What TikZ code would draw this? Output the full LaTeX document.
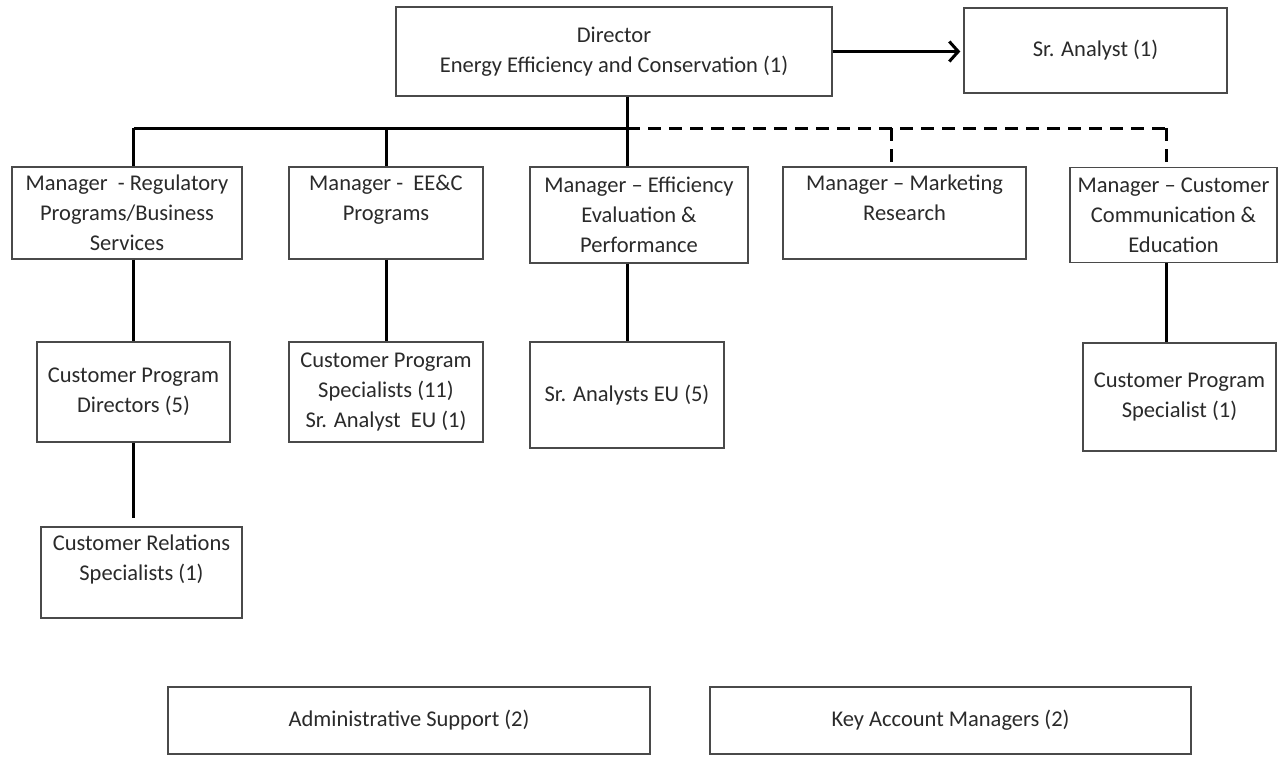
\documentclass[tikz,border=0pt]{standalone}
\usepackage{fontspec}
\setmainfont{Carlito}
\usetikzlibrary{arrows.meta}
\definecolor{boxgray}{HTML}{4A4A4A}
\definecolor{txtgray}{HTML}{2A2A2A}
\begin{document}
\begin{tikzpicture}[x=1pt,y=-1pt,
  box/.style={draw=boxgray, line width=1.4pt, inner sep=0pt, align=center,
    text=txtgray, font=\fontsize{22.5pt}{30pt}\selectfont},
  link/.style={line width=3pt, draw=black},
  dlink/.style={link, dash pattern=on 13pt off 8pt}]
\useasboundingbox[fill=white] (0,0) rectangle (1283,760);

\node[box, minimum width=436pt, minimum height=89pt] (dir) at (614,51.5) {Director\\Energy Efficiency and Conservation (1)};
\node[box, minimum width=263pt, minimum height=85pt] (sra) at (1095.5,50.5) {Sr. Analyst (1)};

\node[box, minimum width=230pt, minimum height=92pt] (m1) at (127,213) {Manager \ - Regulatory\\Programs/Business\\Services};
\node[box, minimum width=194pt, minimum height=92pt] (m2) at (386,213) {Manager - \ EE\&C\\Programs\\\mbox{}};
\node[box, minimum width=218pt, minimum height=96pt] (m3) at (639,215) {Manager – Efficiency\\Evaluation \&\\Performance};
\node[box, minimum width=243pt, minimum height=92pt] (m4) at (904.5,213) {Manager – Marketing\\Research\\\mbox{}};
\node[box, minimum width=207pt, minimum height=95pt] (m5) at (1173.5,215) {Manager – Customer\\Communication \&\\Education};

\node[box, minimum width=193pt, minimum height=100pt] (cpd) at (133.5,392) {Customer Program\\Directors (5)};
\node[box, minimum width=194pt, minimum height=100pt] (cps) at (386,392) {Customer Program\\Specialists (11)\\Sr. Analyst \ EU (1)};
\node[box, minimum width=194pt, minimum height=106pt] (sae) at (627,395) {Sr. Analysts EU (5)};
\node[box, minimum width=193pt, minimum height=108pt] (cps1) at (1179.5,397) {Customer Program\\Specialist (1)};

\node[box, minimum width=201pt, minimum height=91pt] (crs) at (141.5,572.5) {Customer Relations\\Specialists (1)\\\mbox{}};

\node[box, minimum width=482pt, minimum height=67pt] (adm) at (409,720.5) {Administrative Support (2)};
\node[box, minimum width=481pt, minimum height=67pt] (kam) at (950.5,720.5) {Key Account Managers (2)};

% bus
\coordinate (bus) at (627,128);
\coordinate (b1) at (133.5,128);
\coordinate (b4) at (891,128);
\coordinate (b5) at (1166,128);

\draw[link, -{Straight Barb[length=9pt,width=20pt]}, shorten >=3pt] (dir.east) -- (dir.east -| sra.west);

\draw[link] (dir.south -| bus) -- (bus);
\draw[link] (b1) -- (bus);
\draw[dlink] (bus) -- (b5);
\draw[link] (b1) -- (b1 |- m1.north);
\draw[link] (m2.north |- bus) -- (m2.north);
\draw[link] (bus) -- (bus |- m3.north);
\draw[dlink] (b4) -- (b4 |- m4.north);
\draw[dlink] (b5) -- (b5 |- m5.north);

\draw[link] (b1 |- m1.south) -- (cpd.north);
\draw[link] (m2.south) -- (cps.north);
\draw[link] (bus |- m3.south) -- (sae.north);
\draw[link] (b5 |- m5.south) -- (b5 |- cps1.north);
\draw[link, shorten >=8pt] (cpd.south) -- (cpd.south |- crs.north);
\end{tikzpicture}
\end{document}
